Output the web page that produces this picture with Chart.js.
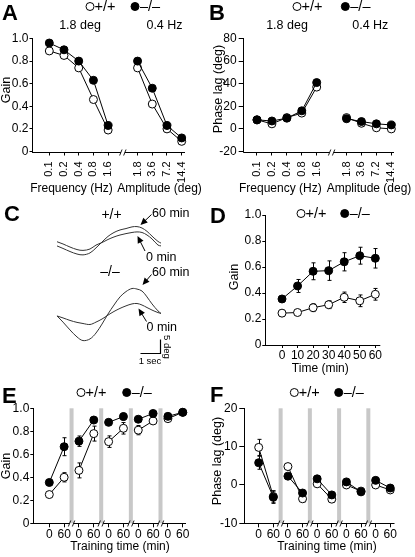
<!DOCTYPE html>
<html><head><meta charset="utf-8">
<script src="https://cdn.jsdelivr.net/npm/chart.js@4.4.1/dist/chart.umd.min.js"></script>
<style>
html,body{margin:0;padding:0;background:#fff;}
#wrap{position:relative;width:415px;height:557px;overflow:hidden;background:#fff;}
#wrap canvas{position:absolute;left:0;top:0;}
</style></head>
<body><div id="wrap">
<canvas id="cA" width="415" height="557"></canvas>
<canvas id="cB" width="415" height="557"></canvas>
<canvas id="cC" width="415" height="557"></canvas>
<canvas id="cD" width="415" height="557"></canvas>
<canvas id="cE" width="415" height="557"></canvas>
<canvas id="cF" width="415" height="557"></canvas>
</div>
<script>
// ---------------- data ----------------
const freqLabels = ['0.1','0.2','0.4','0.8','1.6'];
const ampLabels  = ['1.8','3.6','7.2','14.4'];
const gainWTFreq = [0.89,0.85,0.74,0.46,0.19];
const gainKOFreq = [0.96,0.90,0.80,0.63,0.23];
const gainWTAmp  = [0.74,0.42,0.20,0.09];
const gainKOAmp  = [0.80,0.56,0.23,0.12];
const phaseWTFreq = [8,4.5,10,14,37];
const phaseKOFreq = [8,7,9.5,16,41];
const phaseWTAmp  = [10,5,1,0];
const phaseKOAmp  = [9,6.5,4.5,3.5];

// panel C eye-position traces (time in s, position in deg)
const traceTime = [0,0.3,0.65,1.0,1.3,1.65,1.95,2.25,2.55,2.85,3.15,3.45,3.75,4.0,4.25,4.5,4.75,5.05,5.2];
const traceWT0  = [0.1,-0.7,-1.8,-2.7,-3.0,-2.5,-1.1,-0.2,0.9,1.8,2.5,3.0,3.4,3.6,3.4,2.5,1.1,-1.1,-1.4];
const traceWT60 = [-1.4,-2.3,-3.4,-4.3,-4.6,-3.9,-2.1,0,2.0,3.4,4.3,4.8,5.4,5.5,5.0,3.8,2.1,0.2,-0.4];
const traceKO0  = [-0.7,-1.4,-2.3,-3.0,-3.4,-3.75,-2.9,-1.8,-0.4,0.9,2.0,2.9,3.6,3.75,3.2,2.3,1.4,0.5,0.2];
const traceKO60 = [-0.7,-2.9,-5.7,-8.2,-9.5,-8.9,-6.8,-3.6,0,3.2,6.1,8.0,9.1,8.9,8.2,6.1,3.6,1.1,0.2];

const timeD   = [0,10,20,30,40,50,60];
const gainWTD = [0.245,0.25,0.287,0.31,0.367,0.34,0.39];
const errWTD  = [0.01,0.015,0.03,0.03,0.04,0.045,0.045];
const gainKOD = [0.354,0.454,0.567,0.572,0.64,0.687,0.667];
const errKOD  = [0.02,0.05,0.065,0.075,0.07,0.065,0.075];

const trainLabels = ['0','60','0','60','0','60','0','60','0','60'];
const gainWTE = [0.25,0.40,0.46,0.78,0.71,0.826,0.81,0.89,0.91,0.965];
const errWTE  = [0.01,0.04,0.065,0.065,0.05,0.05,0.04,0.02,0.01,0.01];
const gainKOE = [0.355,0.666,0.714,0.898,0.878,0.928,0.905,0.955,0.93,0.965];
const errKOE  = [0.01,0.078,0.045,0.02,0.01,0.03,0.01,0.01,0.01,0.01];

const phaseWTF = [9.8,-3.0,4.8,-3.6,0.3,-3.7,0.0,-1.6,0.0,-1.3];
const errWTF   = [2.1,1.5,0.8,0.8,0.5,0.8,0.3,0.3,0.3,0.3];
const phaseKOF = [5.8,-3.2,2.3,-2.1,1.6,-2.6,0.8,-1.8,1.2,-0.8];
const errKOF   = [1.7,1.6,0.5,0.5,0.4,0.5,0.3,0.3,0.3,0.3];

// ---------------- helpers ----------------
const W = 415, H = 557;
const FONT = '"Liberation Sans", Arial, Helvetica, sans-serif';
Chart.defaults.font.family = FONT;
Chart.defaults.color = '#000';

function fitTo(area){
  return s => {
    if (s.isHorizontal()) s.height = H - area.b; else s.width = area.l;
    s.paddingLeft = s.paddingRight = s.paddingTop = s.paddingBottom = 0;
  };
}
function txt(ctx, s, x, y, size, o={}){
  ctx.save();
  ctx.font = (o.bold ? 'bold ' : '') + size + 'px ' + FONT;
  ctx.fillStyle = '#000';
  ctx.textAlign = o.align || 'left';
  ctx.textBaseline = o.base || 'middle';
  ctx.translate(x, y);
  if (o.rot) ctx.rotate(o.rot);
  ctx.fillText(s, 0, 0);
  ctx.restore();
}
function circle(ctx, x, y, filled, r=4){
  ctx.save();
  ctx.beginPath(); ctx.arc(x, y, r, 0, Math.PI*2);
  ctx.fillStyle = filled ? '#000' : '#fff'; ctx.fill();
  ctx.lineWidth = 1; ctx.strokeStyle = '#000'; ctx.stroke();
  ctx.restore();
}
function legend(ctx, x1, x2, y){
  circle(ctx, x1, y, false); txt(ctx, '+/+', x1+4.5, y+0.5, 14.5);
  circle(ctx, x2, y, true);  txt(ctx, '\u2013/\u2013', x2+5, y+0.5, 14.5);
}
function arrow(ctx, x1, y1, x2, y2){
  const a = Math.atan2(y2-y1, x2-x1), L = 7, Wd = 3.2;
  const c = Math.cos(a), s = Math.sin(a);
  ctx.save();
  ctx.strokeStyle = '#000'; ctx.fillStyle = '#000'; ctx.lineWidth = 1;
  ctx.beginPath(); ctx.moveTo(x1, y1); ctx.lineTo(x2 - c*L*0.8, y2 - s*L*0.8); ctx.stroke();
  ctx.beginPath(); ctx.moveTo(x2, y2);
  ctx.lineTo(x2 - c*L + s*Wd, y2 - s*L - c*Wd);
  ctx.lineTo(x2 - c*L - s*Wd, y2 - s*L + c*Wd);
  ctx.closePath(); ctx.fill();
  ctx.restore();
}
function drawXAxis(chart, breaks){
  const {ctx, chartArea:a, scales:{x}} = chart;
  const y = Math.round(a.bottom) + 0.5;
  const bx = breaks.map(b => x.getPixelForValue(b));
  const pts = [a.left - 0.5];
  bx.forEach(b => { pts.push(b - 2); pts.push(b + 2); });
  pts.push(a.right);
  ctx.save(); ctx.strokeStyle = '#000'; ctx.lineWidth = 1;
  ctx.beginPath();
  for (let i = 0; i < pts.length; i += 2){ ctx.moveTo(pts[i], y); ctx.lineTo(pts[i+1], y); }
  ctx.stroke();
  ctx.lineWidth = 0.9;
  bx.forEach(b => {
    ctx.beginPath();
    ctx.moveTo(b - 3.2, y + 3); ctx.lineTo(b - 0.8, y - 3);
    ctx.moveTo(b + 0.8, y + 3); ctx.lineTo(b + 3.2, y - 3);
    ctx.stroke();
  });
  ctx.restore();
}
function drawBars(chart, pos){
  const {ctx, chartArea:a, scales:{x}} = chart;
  ctx.save(); ctx.fillStyle = '#c8c8c8';
  pos.forEach(p => { const px = x.getPixelForValue(p); ctx.fillRect(px - 2, a.top, 4, a.bottom - a.top); });
  ctx.restore();
}
function drawErrors(chart){
  const {ctx, scales:{x, y}} = chart;
  ctx.save(); ctx.strokeStyle = '#000'; ctx.lineWidth = 1;
  chart.data.datasets.forEach(ds => {
    ds.data.forEach(p => {
      if (p.y == null || !p.e) return;
      const px = Math.round(x.getPixelForValue(p.x)) + 0.5;
      const y1 = y.getPixelForValue(p.y + p.e), y2 = y.getPixelForValue(p.y - p.e);
      ctx.beginPath();
      ctx.moveTo(px, y1); ctx.lineTo(px, y2);
      ctx.moveTo(px - 2, y1); ctx.lineTo(px + 2, y1);
      ctx.moveTo(px - 2, y2); ctx.lineTo(px + 2, y2);
      ctx.stroke();
    });
  });
  ctx.restore();
}
function splitSeries(a, b){
  return [...a.map((y,i)=>({x:i,y})), {x:a.length, y:null}, ...b.map((y,i)=>({x:a.length+1+i, y}))];
}
function daySeries(v, e){
  const out = [];
  v.forEach((y,i) => { out.push({x:i, y, e:e[i]}); if (i%2===1 && i < v.length-1) out.push({x:i+0.5, y:null}); });
  return out;
}
const baseDs = {borderColor:'#000', borderWidth:1, pointRadius:4, pointBorderWidth:1, pointBorderColor:'#000',
  tension:0, clip:false, spanGaps:false, pointHoverRadius:4};
function WT(data){ return Object.assign({}, baseDs, {data, pointBackgroundColor:'#fff'}); }
function KO(data){ return Object.assign({}, baseDs, {data, pointBackgroundColor:'#000'}); }

function xAxis(area, min, max, tickVals, labelFn, o){
  return {type:'linear', min, max,
    afterBuildTicks: s => { s.ticks = tickVals.map(v => ({value:v})); },
    afterFit: fitTo(area),
    border:{display:false},
    grid:{display:true, drawOnChartArea:false, drawTicks:true, tickLength:o.tl, color:'#000', lineWidth:1},
    ticks:{autoSkip:false, maxRotation:o.rot, minRotation:o.rot, padding:o.pad, color:'#000',
      font:{family:FONT, size:o.fs}, callback:(v) => labelFn(v)}
  };
}
function yAxis(area, min, max, tickVals, labelFn, o){
  return {type:'linear', min, max,
    afterBuildTicks: s => { s.ticks = tickVals.map(v => ({value:v})); },
    afterFit: fitTo(area),
    border:{display:true, color:'#000', width:1},
    grid:{display:true, drawOnChartArea:false, drawTicks:true, tickLength:o.tl, color:'#000', lineWidth:1},
    ticks:{padding:o.pad, color:'#000', font:{family:FONT, size:12}, callback:(v) => labelFn(v)}
  };
}
function makeChart(id, area, scales, datasets, plugin){
  return new Chart(document.getElementById(id), {
    type:'line',
    data:{datasets},
    options:{responsive:false, animation:false, events:[],
      layout:{padding:{left:0, top:area.t, right:W-area.r, bottom:0}},
      plugins:{legend:{display:false}, tooltip:{enabled:false}},
      scales},
    plugins:[plugin]
  });
}
const gainFmt = v => v === 0 ? '0' : v.toFixed(1);
const intFmt = v => String(Math.round(v));
const gainTicks = [0,0.2,0.4,0.6,0.8,1.0];

// ---------------- Panel A ----------------
const abLabels = [...freqLabels, '', ...ampLabels];
const abTickVals = [0,1,2,3,4,6,7,8,9];
const areaA = {l:32.5, r:185, t:38.5, b:151.5};
makeChart('cA', areaA, {
  x: xAxis(areaA, -1.142, 9.225, abTickVals, v => abLabels[Math.round(v)], {tl:4, pad:6, rot:90, fs:11}),
  y: yAxis(areaA, 0, 1, gainTicks, gainFmt, {tl:3, pad:1})
}, [KO(splitSeries(gainKOFreq, gainKOAmp)), WT(splitSeries(gainWTFreq, gainWTAmp))], {
  id:'decA',
  beforeDatasetsDraw(c){ drawXAxis(c, [5]); },
  afterDraw(c){
    const ctx = c.ctx;
    txt(ctx, 'A', 2, 20, 22, {bold:true, base:'alphabetic'});
    legend(ctx, 90, 135, 6.5);
    txt(ctx, '1.8 deg', 80, 25.5, 12.5, {align:'center'});
    txt(ctx, '0.4 Hz', 164.5, 25.5, 12.5, {align:'center'});
    txt(ctx, 'Gain', 7, 90, 12.5, {align:'center', rot:-Math.PI/2});
    txt(ctx, 'Frequency (Hz)', 71.5, 189, 12, {align:'center'});
    txt(ctx, 'Amplitude (deg)', 159.5, 189, 12, {align:'center'});
  }
});

// ---------------- Panel B ----------------
const areaB = {l:243.7, r:394, t:38.5, b:151.5};
makeChart('cB', areaB, {
  x: xAxis(areaB, -0.891, 9.18, abTickVals, v => abLabels[Math.round(v)], {tl:4, pad:6, rot:90, fs:11}),
  y: yAxis(areaB, -20, 80, [-20,0,20,40,60,80], intFmt, {tl:5, pad:2})
}, [KO(splitSeries(phaseKOFreq, phaseKOAmp)), WT(splitSeries(phaseWTFreq, phaseWTAmp))], {
  id:'decB',
  beforeDatasetsDraw(c){ drawXAxis(c, [5]); },
  afterDraw(c){
    const ctx = c.ctx;
    txt(ctx, 'B', 209, 20, 22, {bold:true, base:'alphabetic'});
    legend(ctx, 297, 345.3, 6.5);
    txt(ctx, '1.8 deg', 287, 25.5, 12.5, {align:'center'});
    txt(ctx, '0.4 Hz', 370.3, 25.5, 12.5, {align:'center'});
    txt(ctx, 'Phase lag (deg)', 219, 89, 12.5, {align:'center', rot:-Math.PI/2});
    txt(ctx, 'Frequency (Hz)', 280.3, 189, 12, {align:'center'});
    txt(ctx, 'Amplitude (deg)', 369, 189, 12, {align:'center'});
  }
});

// ---------------- Panel C ----------------
const offsetWT = 0, offsetKO = -25.71;
function trace(vals, off){
  return {data: traceTime.map((t,i) => ({x:t, y:vals[i] + off})), borderColor:'#333', borderWidth:1,
    pointRadius:0, tension:0.35, clip:false, fill:false};
}
makeChart('cC', {l:40, r:200, t:200, b:368}, {
  x:{type:'linear', min:-0.85, max:7.15, display:false},
  y:{type:'linear', min:-45, max:15, display:false}
}, [trace(traceWT0, offsetWT), trace(traceWT60, offsetWT), trace(traceKO0, offsetKO), trace(traceKO60, offsetKO)], {
  id:'decC',
  beforeInit(c){ c.options.layout.padding = {left:40, top:200, right:W-200, bottom:H-368}; },
  afterDraw(c){
    const ctx = c.ctx, xs = c.scales.x, ys = c.scales.y;
    txt(ctx, 'C', 4, 221, 22, {bold:true, base:'alphabetic'});
    txt(ctx, '+/+', 111.5, 215, 14, {align:'center'});
    txt(ctx, '\u2013/\u2013', 110, 272.5, 14, {align:'center'});
    txt(ctx, '60 min', 152, 213.5, 12.5);
    arrow(ctx, 151.5, 214.5, 140.5, 225);
    txt(ctx, '0 min', 146, 258, 12.5);
    arrow(ctx, 145, 251, 137.5, 236);
    txt(ctx, '60 min', 152, 272.5, 12.5);
    arrow(ctx, 151.5, 274.5, 142.5, 285);
    txt(ctx, '0 min', 146.5, 327.5, 12.5);
    arrow(ctx, 146.5, 321.5, 138.5, 308.5);
    const pxSec = xs.getPixelForValue(1) - xs.getPixelForValue(0);
    const pxDeg = ys.getPixelForValue(0) - ys.getPixelForValue(5);
    const cx = 160.5, cy = 353.5;
    ctx.save(); ctx.strokeStyle = '#000'; ctx.lineWidth = 1.2;
    ctx.beginPath(); ctx.moveTo(cx - pxSec, cy); ctx.lineTo(cx, cy); ctx.lineTo(cx, cy - pxDeg); ctx.stroke();
    ctx.restore();
    txt(ctx, '1 sec', 150, 361.5, 9.5, {align:'center'});
    txt(ctx, '5 deg', 167, 347, 9.5, {align:'center', rot:Math.PI/2});
  }
});

// ---------------- Panel D ----------------
const areaD = {l:265.3, r:380.3, t:215, b:345};
makeChart('cD', areaD, {
  x: xAxis(areaD, -10.74, 63.2, timeD, intFmt, {tl:3, pad:0, rot:0, fs:12}),
  y: yAxis(areaD, 0, 1, gainTicks, gainFmt, {tl:3, pad:1})
}, [KO(timeD.map((t,i)=>({x:t, y:gainKOD[i], e:errKOD[i]}))), WT(timeD.map((t,i)=>({x:t, y:gainWTD[i], e:errWTD[i]})))], {
  id:'decD',
  beforeDatasetsDraw(c){ drawXAxis(c, []); drawErrors(c); },
  afterDraw(c){
    const ctx = c.ctx;
    txt(ctx, 'D', 210, 223, 22, {bold:true, base:'alphabetic'});
    legend(ctx, 301, 344.7, 213.5);
    txt(ctx, 'Gain', 235, 277, 12.5, {align:'center', rot:-Math.PI/2});
    txt(ctx, 'Time (min)', 320.3, 368.5, 12, {align:'center'});
  }
});

// ---------------- Panel E ----------------
const trainTicks = trainLabels.map((_, i) => i);
const dayBreaks = [1.5, 3.5, 5.5, 7.5];
const areaE = {l:33.3, r:186, t:408.3, b:523.3};
makeChart('cE', areaE, {
  x: xAxis(areaE, -1.08, 9.22, trainTicks, v => trainLabels[Math.round(v)], {tl:4, pad:0.5, rot:0, fs:12}),
  y: yAxis(areaE, 0, 1, gainTicks, gainFmt, {tl:3, pad:1})
}, [KO(daySeries(gainKOE, errKOE)), WT(daySeries(gainWTE, errWTE))], {
  id:'decE',
  beforeDatasetsDraw(c){ drawBars(c, dayBreaks); drawXAxis(c, dayBreaks); drawErrors(c); },
  afterDraw(c){
    const ctx = c.ctx;
    txt(ctx, 'E', 2, 403, 22, {bold:true, base:'alphabetic'});
    legend(ctx, 81, 126.7, 392.5);
    txt(ctx, 'Gain', 7, 466, 12.5, {align:'center', rot:-Math.PI/2});
    txt(ctx, 'Training time (min)', 120, 546.5, 12, {align:'center'});
  }
});

// ---------------- Panel F ----------------
const areaF = {l:244.3, r:394.5, t:408.3, b:523.3};
makeChart('cF', areaF, {
  x: xAxis(areaF, -0.985, 9.29, trainTicks, v => trainLabels[Math.round(v)], {tl:4, pad:0.5, rot:0, fs:12}),
  y: yAxis(areaF, -10, 20, [-10,0,10,20], intFmt, {tl:5, pad:2})
}, [KO(daySeries(phaseKOF, errKOF)), WT(daySeries(phaseWTF, errWTF))], {
  id:'decF',
  beforeDatasetsDraw(c){ drawBars(c, dayBreaks); drawXAxis(c, dayBreaks); drawErrors(c); },
  afterDraw(c){
    const ctx = c.ctx;
    txt(ctx, 'F', 210, 402, 22, {bold:true, base:'alphabetic'});
    legend(ctx, 294.3, 338.7, 392.5);
    txt(ctx, 'Phase lag (deg)', 218, 461, 12.5, {align:'center', rot:-Math.PI/2});
    txt(ctx, 'Training time (min)', 327, 546.5, 12, {align:'center'});
  }
});
</script>
</body></html>
